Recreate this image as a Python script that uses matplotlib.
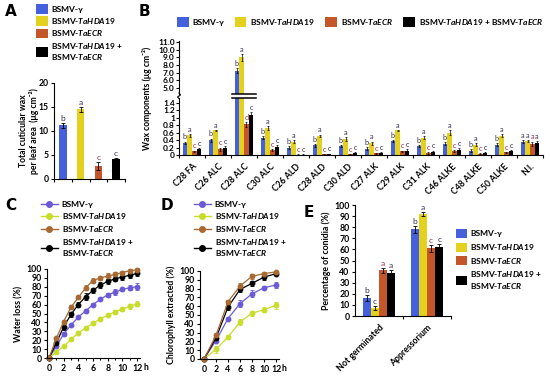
import numpy as np
import matplotlib
matplotlib.use('Agg')
import matplotlib.pyplot as plt
from matplotlib.patches import Patch
from matplotlib.lines import Line2D

# ---------------- data ----------------
groups4 = ['BSMV-γ', 'BSMV-TaHDA19', 'BSMV-TaECR', 'BSMV-TaHDA19 + BSMV-TaECR']

# Panel A
a_vals = [11.2, 14.5, 2.7, 4.2]
a_err = [0.5, 0.5, 0.8, 0.2]
a_let = ['b', 'a', 'c', 'c']

# Panel B
b_cats = ['C28 FA', 'C26 ALC', 'C28 ALC', 'C30 ALC', 'C26 ALD', 'C28 ALD', 'C30 ALD',
          'C27 ALK', 'C29 ALK', 'C31 ALK', 'C46 ALKE', 'C48 ALKE', 'C50 ALKE', 'N.I.']
b_gamma = [0.33, 0.40, 7.3, 0.46, 0.20, 0.26, 0.24, 0.17, 0.38, 0.24, 0.30, 0.12, 0.27, 0.35]
b_hda = [0.53, 0.66, 9.0, 0.72, 0.36, 0.52, 0.42, 0.32, 0.66, 0.46, 0.60, 0.28, 0.52, 0.38]
b_ecr = [0.10, 0.16, 0.82, 0.14, 0.01, 0.02, 0.02, 0.05, 0.10, 0.06, 0.10, 0.04, 0.07, 0.30]
b_both = [0.16, 0.20, 1.08, 0.22, 0.01, 0.03, 0.05, 0.06, 0.12, 0.09, 0.14, 0.05, 0.12, 0.32]
b_gamma_err = [0.03, 0.04, 0.3, 0.04, 0.03, 0.04, 0.03, 0.04, 0.03, 0.03, 0.04, 0.04, 0.04, 0.04]
b_hda_err = [0.04, 0.02, 0.4, 0.05, 0.05, 0.03, 0.05, 0.04, 0.02, 0.04, 0.06, 0.03, 0.05, 0.02]
b_ecr_err = [0.02, 0.04, 0.06, 0.03, 0.01, 0.01, 0.01, 0.01, 0.02, 0.02, 0.03, 0.01, 0.02, 0.06]
b_both_err = [0.03, 0.03, 0.07, 0.04, 0.01, 0.01, 0.02, 0.02, 0.03, 0.03, 0.04, 0.02, 0.02, 0.05]
b_let_gamma = ['b'] * 13 + ['a']
b_let_hda = ['a'] * 14
b_let_ecr = ['c', 'c', 'd'] + ['c'] * 10 + ['a']
b_let_both = ['c'] * 13 + ['a']

# Panel C (water loss, hourly)
c_hours = list(range(13))
c_gamma = [0, 13, 27, 37, 46, 53, 60, 66, 71, 74, 77, 79, 80]
c_hda = [0, 7, 13, 21, 28, 34, 39, 44, 48, 52, 55, 58, 61]
c_ecr = [0, 22, 41, 57, 68, 79, 87, 90, 92, 94, 96, 98, 99]
c_both = [0, 17, 35, 49, 60, 69, 76, 82, 86, 89, 91, 93, 95]
c_gamma_err = [0, 2, 2, 1, 1, 2, 2, 1, 2, 3, 2, 3, 4]
c_hda_err = [0, 1, 1, 2, 2, 2, 2, 1, 1, 2, 2, 3, 3]
c_ecr_err = [0, 2, 2, 2, 2, 3, 3, 2, 3, 3, 2, 2, 2]
c_both_err = [0, 3, 3, 3, 3, 4, 3, 3, 3, 3, 3, 3, 3]

# Panel D (chlorophyll extracted)
d_hours = [0, 2, 4, 6, 8, 10, 12]
d_gamma = [0, 21, 46, 63, 74, 81, 84]
d_hda = [0, 11, 25, 42, 52, 56, 61]
d_ecr = [0, 27, 65, 83, 94, 97, 99]
d_both = [0, 24, 59, 79, 86, 93, 97]
d_gamma_err = [0, 2, 2, 4, 4, 2, 3]
d_hda_err = [0, 4, 2, 3, 3, 3, 4]
d_ecr_err = [0, 2, 2, 3, 3, 2, 1]
d_both_err = [0, 2, 3, 3, 3, 3, 2]

# Panel E
e_cats = ['Not germinated', 'Appressorium']
e_gamma = [16, 78]
e_hda = [7, 92]
e_ecr = [41, 61]
e_both = [39, 62]
e_gamma_err = [2.5, 3]
e_hda_err = [2, 2]
e_ecr_err = [2.5, 3]
e_both_err = [2, 3]
e_let = [['b', 'c', 'a', 'a'], ['b', 'a', 'c', 'c']]

# ---------------- style ----------------
plt.rcParams.update({
    'font.family': ['Lato', 'DejaVu Sans'],
    'font.weight': 'bold',
    'font.size': 6,
    'mathtext.fontset': 'custom',
    'mathtext.rm': 'Lato:bold',
    'mathtext.it': 'Lato:italic:bold',
    'mathtext.bf': 'Lato:bold',
    'axes.linewidth': 0.8,
    'xtick.major.width': 0.8,
    'ytick.major.width': 0.8,
    'xtick.minor.width': 0.8,
    'xtick.major.size': 2.5,
    'ytick.major.size': 2.5,
    'xtick.minor.size': 2.5,
    'xtick.major.pad': 2,
    'ytick.major.pad': 1.5,
    'axes.labelweight': 'bold',
})

BAR_COLS = ['#4560dc', '#e3d11e', '#c4562a', '#000000']
LINE_COLS = ['#6a5ad6', '#c8dc2a', '#a86a32', '#000000']
LET_COLS = ['#3a2f55', '#3a2f55', '#a02a4a', '#3a2f55']

lab_tex = ['BSMV-γ', r'BSMV-$\mathit{TaHDA19}$', r'BSMV-$\mathit{TaECR}$',
           'BSMV-$\\mathit{TaHDA19}$ +\nBSMV-$\\mathit{TaECR}$']
lab_tex_1line = ['BSMV-γ', r'BSMV-$\mathit{TaHDA19}$', r'BSMV-$\mathit{TaECR}$',
                 r'BSMV-$\mathit{TaHDA19}$ + BSMV-$\mathit{TaECR}$']

W, H = 550, 381
fig = plt.figure(figsize=(W / 100, H / 100), dpi=100)


def ax_px(x0, y0, x1, y1):
    a = fig.add_axes([x0 / W, 1 - y1 / H, (x1 - x0) / W, (y1 - y0) / H])
    a.spines['top'].set_visible(False)
    a.spines['right'].set_visible(False)
    return a


def fxy(x, y):
    return (x / W, 1 - y / H)


def panel_letter(x, y, s):
    fig.text(x / W, 1 - y / H, s, fontsize=11, fontweight='bold', family='DejaVu Sans',
             ha='left', va='center')


def letter(ax, x, y, s, col, fs=5.5):
    ax.annotate(s, xy=(x, y), xytext=(0, 0.8), textcoords='offset points',
                ha='center', va='bottom', fontsize=fs, color=col, fontweight='normal',
                annotation_clip=False)


ekw = dict(ecolor='black', elinewidth=0.6, capsize=1.2, capthick=0.6)
TL = 6.0  # tick label size

# ---------------- Panel A ----------------
panel_letter(5, 12, 'A')
axA = ax_px(54, 83, 125, 179)
xa = np.arange(4)
axA.bar(xa, a_vals, width=0.42, color=BAR_COLS, yerr=a_err, error_kw=ekw)
for i in range(4):
    letter(axA, xa[i], a_vals[i] + a_err[i], a_let[i], LET_COLS[i], fs=6)
axA.set_xlim(-0.5, 3.5)
axA.set_ylim(0, 20)
axA.set_yticks([0, 5, 10, 15, 20])
axA.set_xticks([])
axA.set_xticks([-0.5, 0.5, 1.5, 2.5, 3.5], minor=True)
axA.tick_params(axis='x', which='minor', length=2.5)
axA.tick_params(labelsize=6.2)
fig.text(29 / W, 1 - 131 / H, 'Total cuticular wax\nper leaf area  (μg cm⁻²)',
         rotation=90, ha='center', va='center', fontsize=6.2, fontweight='bold',
         linespacing=1.1)
hA = [Patch(facecolor=c, edgecolor='none') for c in BAR_COLS]
fig.legend(hA, lab_tex, loc='upper left', bbox_to_anchor=fxy(36, 4), frameon=False,
           borderaxespad=0, borderpad=0, handlelength=1.4, handleheight=1.4,
           handletextpad=0.4, labelspacing=0.28, fontsize=6)

# ---------------- Panel B ----------------
panel_letter(139, 12, 'B')
x0B, x1B = 179, 543
axBu = ax_px(x0B, 40.6, x1B, 93.5)
axBl = ax_px(x0B, 98, x1B, 155)
xb = np.arange(len(b_cats))
bw = 0.18
offs = [-1.5 * bw, -0.5 * bw, 0.5 * bw, 1.5 * bw]
series = [b_gamma, b_hda, b_ecr, b_both]
serr = [b_gamma_err, b_hda_err, b_ecr_err, b_both_err]
slet = [b_let_gamma, b_let_hda, b_let_ecr, b_let_both]
ekwB = dict(ecolor='black', elinewidth=0.5, capsize=0.9, capthick=0.5)
LO_TOP, UP_BOT = 1.53, 4.3
for k in range(4):
    for ax in (axBu, axBl):
        ax.bar(xb + offs[k], series[k], width=bw, color=BAR_COLS[k], yerr=serr[k],
               error_kw=ekwB)
    for i in range(len(b_cats)):
        v = series[k][i] + serr[k][i]
        target = axBu if series[k][i] > LO_TOP else axBl
        letter(target, xb[i] + offs[k], v, slet[k][i], LET_COLS[k], fs=5.3)
for ax in (axBu, axBl):
    ax.set_xlim(-0.5, len(b_cats) - 0.5)
axBu.set_ylim(UP_BOT, 11.2)
axBl.set_ylim(0, LO_TOP)
axBu.spines['bottom'].set_visible(False)
axBu.set_xticks([])
axBu.set_yticks(np.arange(5, 11.01, 1.0))
axBu.set_yticklabels([f'{v:.1f}' for v in np.arange(5, 11.01, 1.0)])
axBl.set_yticks([0, 0.2, 0.4, 0.6, 0.8, 1.0, 1.2, 1.4])
axBl.set_yticklabels(['0', '0.2', '0.4', '0.6', '0.8', '1', '1.2', '1.4'])
axBl.set_xticks(xb)
axBl.set_xticklabels(b_cats, rotation=45, ha='right', va='top', rotation_mode='anchor',
                     fontsize=6.2)
axBl.tick_params(axis='x', which='major', length=0, pad=5)
axBl.set_xticks(np.arange(-0.5, len(b_cats)), minor=True)
axBl.tick_params(axis='x', which='minor', length=2.5)
for ax in (axBu, axBl):
    ax.tick_params(axis='y', labelsize=TL, length=2, pad=1)
# break marks
bi = b_cats.index('C28 ALC')
axBl.plot([bi - 0.45, bi + 0.45], [LO_TOP, LO_TOP], color='black', lw=1.1, clip_on=False)
axBu.plot([bi - 0.45, bi + 0.45], [UP_BOT, UP_BOT], color='black', lw=1.1, clip_on=False)
sq = [fxy(179, 98.5), fxy(177.5, 97), fxy(180.5, 95), fxy(179, 93)]
fig.add_artist(Line2D([p[0] for p in sq], [p[1] for p in sq], color='black', lw=0.8))
fig.text(147 / W, 1 - 98 / H, 'Wax components (μg cm⁻²)', rotation=90, ha='center',
         va='center', fontsize=6.2, fontweight='bold')
fig.legend(hA, lab_tex_1line, loc='center left', bbox_to_anchor=fxy(177, 22), frameon=False,
           ncol=4, borderaxespad=0, borderpad=0, handlelength=1.4, handleheight=1.4,
           handletextpad=0.5, columnspacing=1.2, fontsize=6)

# ---------------- Panel C ----------------
panel_letter(5, 206, 'C')
axC = ax_px(47, 269, 140, 358)
cser = [c_gamma, c_hda, c_ecr, c_both]
cerr = [c_gamma_err, c_hda_err, c_ecr_err, c_both_err]
for k in [1, 0, 3, 2]:
    axC.errorbar(c_hours, cser[k], yerr=cerr[k], color=LINE_COLS[k], marker='o', ms=3.2,
                 lw=0.9, elinewidth=0.6, capsize=1.2, capthick=0.6, clip_on=False)
axC.set_xlim(-0.27, 12.4)
axC.set_ylim(0, 100)
axC.set_yticks(np.arange(0, 101, 10))
axC.set_xticks(np.arange(0, 13, 2))
axC.set_xticks(np.arange(0, 13, 1), minor=True)
axC.tick_params(axis='x', which='minor', length=1.5)
axC.tick_params(labelsize=6.3)
axC.annotate('h', xy=(1, 0), xycoords='axes fraction', xytext=(2.5, -3.5),
             textcoords='offset points', ha='left', va='top', fontsize=6.3)
axC.set_ylabel('Water loss (%)', fontsize=6.3, labelpad=2)

hL = [Line2D([0], [0], color=c, marker='o', ms=4, lw=1.0) for c in LINE_COLS]
fig.legend(hL, lab_tex, loc='upper left', bbox_to_anchor=fxy(41, 201), frameon=False,
           borderaxespad=0, borderpad=0, handlelength=2.0, handletextpad=0.5,
           labelspacing=0.35, fontsize=6)

# ---------------- Panel D ----------------
panel_letter(161, 206, 'D')
axD = ax_px(200, 271, 279, 359)
dser = [d_gamma, d_hda, d_ecr, d_both]
derr = [d_gamma_err, d_hda_err, d_ecr_err, d_both_err]
for k in [1, 0, 3, 2]:
    axD.errorbar(d_hours, dser[k], yerr=derr[k], color=LINE_COLS[k], marker='o', ms=3.2,
                 lw=0.9, elinewidth=0.6, capsize=1.2, capthick=0.6, clip_on=False)
axD.set_xlim(-0.67, 12.5)
axD.set_ylim(0, 100)
axD.set_yticks(np.arange(0, 101, 10))
axD.set_xticks(np.arange(0, 13, 2))
axD.tick_params(labelsize=6.3)
axD.annotate('h', xy=(1, 0), xycoords='axes fraction', xytext=(2.0, -3.5),
             textcoords='offset points', ha='left', va='top', fontsize=6.3)
axD.set_ylabel('Chlorophyll extracted (%)', fontsize=6.3, labelpad=2)
fig.legend(hL, lab_tex, loc='upper left', bbox_to_anchor=fxy(194, 201), frameon=False,
           borderaxespad=0, borderpad=0, handlelength=2.0, handletextpad=0.5,
           labelspacing=0.35, fontsize=6)

# ---------------- Panel E ----------------
panel_letter(304, 212, 'E')
axE = ax_px(355, 205, 451, 316)
xe = np.arange(len(e_cats))
ew = 0.17
eoffs = [-1.5 * ew, -0.5 * ew, 0.5 * ew, 1.5 * ew]
eser = [e_gamma, e_hda, e_ecr, e_both]
eerr = [e_gamma_err, e_hda_err, e_ecr_err, e_both_err]
for k in range(4):
    axE.bar(xe + eoffs[k], eser[k], width=ew, color=BAR_COLS[k], yerr=eerr[k], error_kw=ekw)
    for i in range(len(e_cats)):
        letter(axE, xe[i] + eoffs[k], eser[k][i] + eerr[k][i], e_let[i][k], LET_COLS[k], fs=6)
axE.set_xlim(-0.5, 1.5)
axE.set_ylim(0, 100)
axE.set_yticks(np.arange(0, 101, 10))
axE.set_xticks(xe)
axE.set_xticklabels(e_cats, rotation=45, ha='right', va='top', rotation_mode='anchor',
                    fontsize=6.3)
axE.tick_params(axis='x', which='major', length=0, pad=5)
axE.set_xticks([0.5, 1.5], minor=True)
axE.tick_params(axis='x', which='minor', length=2.5)
axE.tick_params(axis='y', labelsize=6.3)
axE.set_ylabel('Percentage of conidia (%)', fontsize=6.3, labelpad=2)
fig.legend(hA, lab_tex, loc='upper left', bbox_to_anchor=fxy(456, 229), frameon=False,
           borderaxespad=0, borderpad=0, handlelength=1.3, handleheight=1.3,
           handletextpad=0.4, labelspacing=0.45, fontsize=6)

fig.savefig('out.png', dpi=100)
